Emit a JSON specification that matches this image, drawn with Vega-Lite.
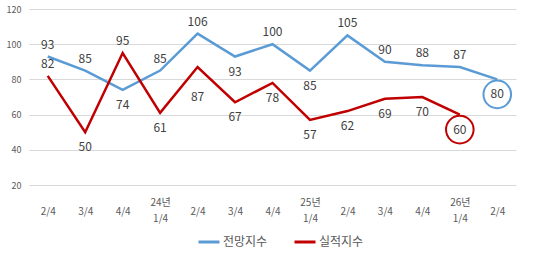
{
  "$schema": "https://vega.github.io/schema/vega-lite/v6.json",
  "width": 487,
  "height": 176,
  "autosize": {"type": "none"},
  "padding": {"left": 29, "top": 9, "right": 18, "bottom": 74},
  "background": "white",
  "config": {
    "font": "Noto Sans CJK KR",
    "view": {"stroke": null},
    "axis": {"labelColor": "#595959", "domain": false, "ticks": false, "title": null}
  },
  "data": {
    "values": [
      {"q": "23 2/4", "series": "전망지수", "v": 93, "pos": "above"},
      {"q": "23 3/4", "series": "전망지수", "v": 85, "pos": "above"},
      {"q": "23 4/4", "series": "전망지수", "v": 74, "pos": "below"},
      {"q": "24년 1/4", "series": "전망지수", "v": 85, "pos": "above"},
      {"q": "24 2/4", "series": "전망지수", "v": 106, "pos": "above"},
      {"q": "24 3/4", "series": "전망지수", "v": 93, "pos": "below"},
      {"q": "24 4/4", "series": "전망지수", "v": 100, "pos": "above"},
      {"q": "25년 1/4", "series": "전망지수", "v": 85, "pos": "below"},
      {"q": "25 2/4", "series": "전망지수", "v": 105, "pos": "above"},
      {"q": "25 3/4", "series": "전망지수", "v": 90, "pos": "above"},
      {"q": "25 4/4", "series": "전망지수", "v": 88, "pos": "above"},
      {"q": "26년 1/4", "series": "전망지수", "v": 87, "pos": "above"},
      {"q": "26 2/4", "series": "전망지수", "v": 80, "pos": "below"},
      {"q": "23 2/4", "series": "실적지수", "v": 82, "pos": "above"},
      {"q": "23 3/4", "series": "실적지수", "v": 50, "pos": "below"},
      {"q": "23 4/4", "series": "실적지수", "v": 95, "pos": "above"},
      {"q": "24년 1/4", "series": "실적지수", "v": 61, "pos": "below"},
      {"q": "24 2/4", "series": "실적지수", "v": 87, "pos": "far"},
      {"q": "24 3/4", "series": "실적지수", "v": 67, "pos": "below"},
      {"q": "24 4/4", "series": "실적지수", "v": 78, "pos": "below"},
      {"q": "25년 1/4", "series": "실적지수", "v": 57, "pos": "below"},
      {"q": "25 2/4", "series": "실적지수", "v": 62, "pos": "below"},
      {"q": "25 3/4", "series": "실적지수", "v": 69, "pos": "below"},
      {"q": "25 4/4", "series": "실적지수", "v": 70, "pos": "below"},
      {"q": "26년 1/4", "series": "실적지수", "v": 60, "pos": "below"}
    ]
  },
  "encoding": {
    "x": {
      "field": "q", "type": "nominal", "sort": null,
      "scale": {"paddingInner": 0, "paddingOuter": 0},
      "axis": {
        "labelAngle": 0, "labelFontSize": 10, "labelBaseline": "middle",
        "labelPadding": {"condition": {"test": "indexof(datum.label,'년')>=0", "value": 17}, "value": 26},
        "labelLineHeight": 16, "grid": false,
        "labelExpr": "indexof(datum.label,'년')>=0 ? split(datum.label,' ') : split(datum.label,' ')[1]"
      }
    },
    "y": {
      "field": "v", "type": "quantitative",
      "scale": {"domain": [20, 120], "nice": false, "zero": false},
      "axis": {"values": [20, 40, 60, 80, 100, 120], "labelFontSize": 9, "labelPadding": 8, "gridColor": "#d9d9d9", "gridWidth": 1}
    }
  },
  "layer": [
    {
      "mark": {"type": "line", "strokeWidth": 2.5},
      "encoding": {
        "color": {
          "field": "series", "type": "nominal",
          "scale": {"domain": ["전망지수", "실적지수"], "range": ["#5B9BD5", "#C00000"]},
          "legend": {
            "title": null, "orient": "none", "direction": "horizontal",
            "legendX": 168, "legendY": 221, "symbolType": "stroke",
            "symbolSize": 441, "symbolStrokeWidth": 3, "labelFontSize": 12,
            "labelColor": "#595959", "labelOffset": 2, "columnPadding": 20
          }
        }
      }
    },
    {
      "transform": [{"filter": "datum.pos == 'above'"}],
      "mark": {"type": "text", "dy": -12, "fontSize": 12, "color": "#404040"},
      "encoding": {"text": {"field": "v", "type": "quantitative"}}
    },
    {
      "transform": [{"filter": "datum.pos == 'below'"}],
      "mark": {"type": "text", "dy": 15, "fontSize": 12, "color": "#404040"},
      "encoding": {"text": {"field": "v", "type": "quantitative"}}
    },
    {
      "transform": [{"filter": "datum.pos == 'far'"}],
      "mark": {"type": "text", "dy": 30, "fontSize": 12, "color": "#404040"},
      "encoding": {"text": {"field": "v", "type": "quantitative"}}
    },
    {
      "transform": [{"filter": "(datum.series=='전망지수' && datum.q=='26 2/4') || (datum.series=='실적지수' && datum.q=='26년 1/4')"}],
      "mark": {"type": "point", "shape": "circle", "filled": false, "size": 760, "strokeWidth": 2, "opacity": 1},
      "encoding": {
        "yOffset": {"value": 15},
        "color": {"field": "series", "type": "nominal", "legend": null}
      }
    }
  ]
}
